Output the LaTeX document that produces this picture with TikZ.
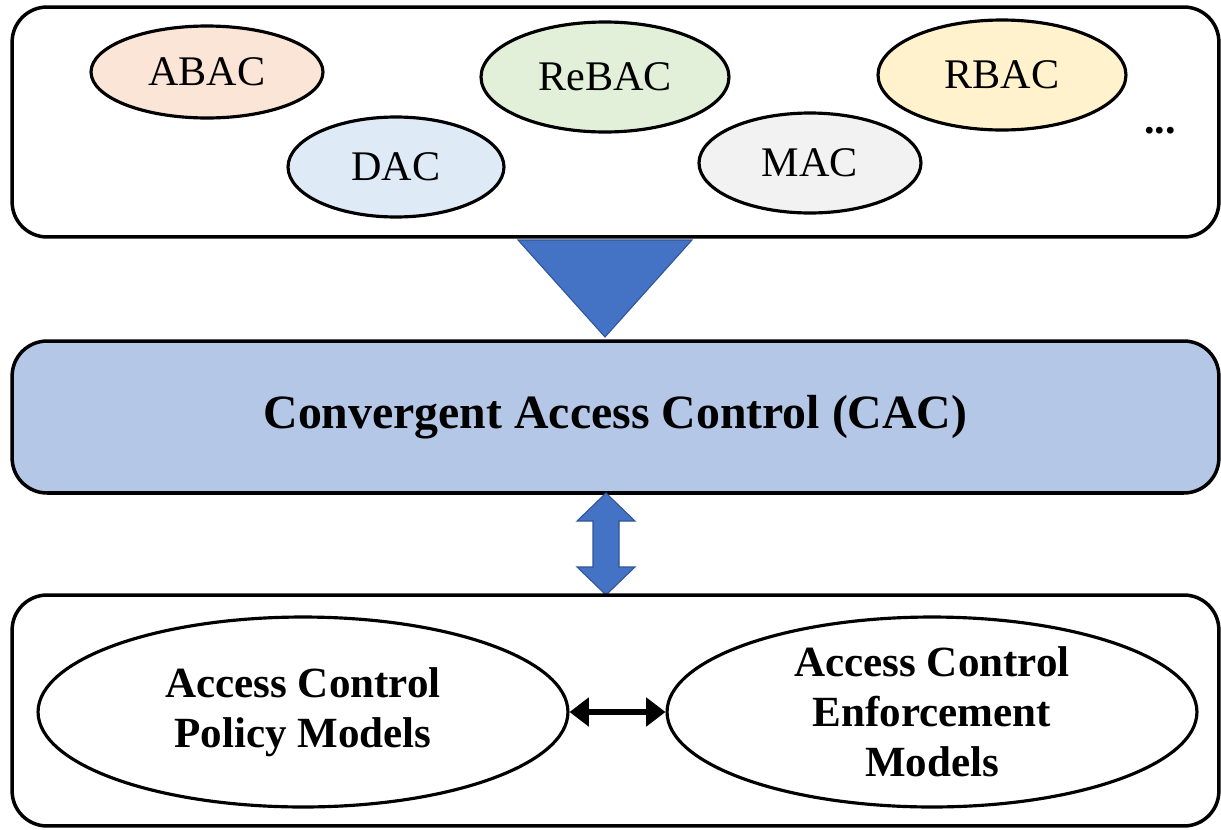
\documentclass[tikz,border=0pt]{standalone}
\usepackage{fontspec}
\setmainfont{Liberation Serif}
\usetikzlibrary{shapes.geometric, arrows.meta, positioning}
\definecolor{abaccolor}{RGB}{251, 229, 214}
\definecolor{daccolor}{RGB}{222, 235, 247}
\definecolor{rebaccolor}{RGB}{226, 240, 217}
\definecolor{maccolor}{RGB}{242, 242, 242}
\definecolor{rbaccolor}{RGB}{255, 242, 204}
\definecolor{cacfill}{RGB}{180, 199, 231}
\definecolor{arrowblue}{RGB}{68, 114, 196}
\definecolor{arrowedge}{RGB}{47, 85, 151}
\tikzstyle{model} = [ellipse, draw=black, line width=1.8pt, inner sep=0pt,
                     font=\fontsize{24}{28}\selectfont]
\tikzstyle{panel} = [rectangle, rounded corners=0.7cm, draw=black, line width=2pt,
                     minimum width=24.14cm, inner sep=0pt]
\tikzstyle{bigmodel} = [ellipse, draw=black, line width=1.8pt, minimum width=10.6cm,
                        minimum height=3.8cm, inner sep=0pt, align=center,
                        font=\bfseries\fontsize{24.5}{28.4}\selectfont]
\tikzstyle{blockarrow} = [fill=arrowblue, draw=arrowedge, line width=0.6pt]

\begin{document}
\begin{tikzpicture}[x=0.02cm, y=-0.02cm]
    \useasboundingbox (0,0) rectangle (1221,829);
    % existing models
    \node[panel, minimum height=4.6cm] (pool) at (615.5,122) {};
    \node[model, fill=abaccolor, minimum width=4.64cm, minimum height=1.84cm] (abac) at (207,72) {ABAC};
    \node[model, fill=daccolor, minimum width=4.32cm, minimum height=2cm] (dac) at (396,167) {DAC};
    \node[model, fill=rebaccolor, minimum width=4.96cm, minimum height=2.2cm] (rebac) at (605,77) {ReBAC};
    \node[model, fill=maccolor, minimum width=4.44cm, minimum height=2cm] (mac) at (810,163) {MAC};
    \node[model, fill=rbaccolor, minimum width=4.96cm, minimum height=2.2cm] (rbac) at (1002,75) {RBAC};
    \node[font=\bfseries\fontsize{24}{28}\selectfont] (more) at (1160,131) {...};

    \draw[blockarrow] (518,240) -- (692,240) -- (605,337) -- cycle;

    \node[panel, fill=cacfill, minimum height=3.04cm,
          font=\bfseries\fontsize{27.2}{32}\selectfont] (cac) at (615.5,417) {Convergent Access Control (CAC)};

    \draw[blockarrow] (606,493) -- (635,521) -- (619,521) -- (619,567) -- (635,567) -- (606,595)
        -- (577,567) -- (593,567) -- (593,521) -- (577,521) -- cycle;

    % policy vs enforcement
    \node[panel, minimum height=4.62cm] (models) at (615.5,710.5) {};
    \node[bigmodel] (policy) at (303,712) {Access Control\\Policy Models};
    \node[bigmodel] (enforce) at (932,712) {Access Control\\Enforcement\\Models};
    \draw[{Triangle[length=11pt, width=16pt]}-{Triangle[length=11pt, width=16pt]}, line width=3.4pt]
        (policy.east) -- (enforce.west);
\end{tikzpicture}
\end{document}
